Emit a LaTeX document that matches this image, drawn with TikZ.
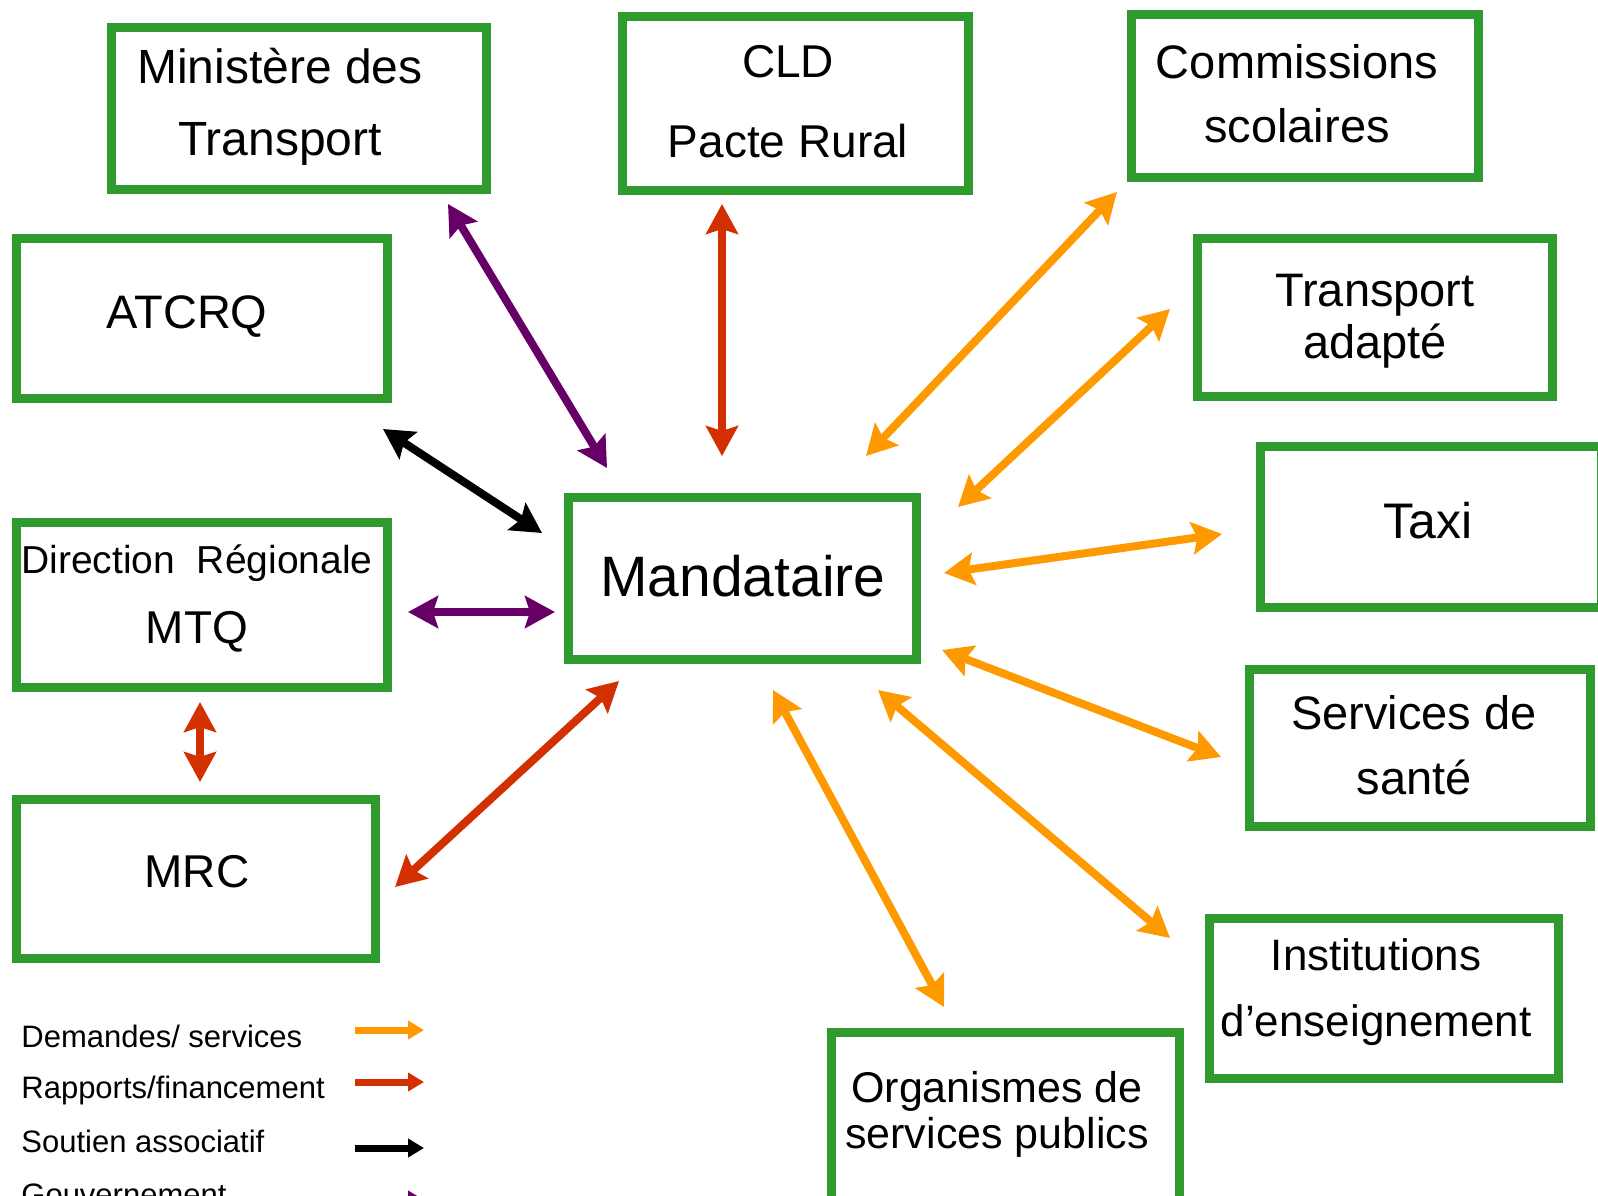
\documentclass[tikz,border=0pt]{standalone}
\usepackage{fontspec}
\setmainfont{Liberation Sans}
\usetikzlibrary{arrows.meta}
\definecolor{boxgreen}{RGB}{47,155,47}
\definecolor{dorange}{RGB}{255,153,0}
\definecolor{dred}{RGB}{210,48,0}
\definecolor{dpurple}{RGB}{102,0,102}
\begin{document}
\begin{tikzpicture}[x=0.5pt,y=-0.5pt,
  box/.style={draw=boxgreen, line width=4.5pt, rectangle, inner sep=0pt},
  lbl/.style={align=center, inner sep=0pt, text=black},
  conn/.style={line width=4pt, {Stealth[length=15pt,width=16pt,inset=2.5pt]}-{Stealth[length=15pt,width=16pt,inset=2.5pt]}},
  leg/.style={line width=3.5pt, -{Triangle[length=8pt,width=9pt]}},
  legtxt/.style={anchor=base west, inner sep=0pt, font=\fontsize{15.5pt}{18pt}\selectfont}]
\useasboundingbox (0,0) rectangle (1598,1195);

% boxes
\node[box, minimum width=187.5pt, minimum height=81pt] (min) at (299,108.5) {};
\node[box, minimum width=173pt, minimum height=87pt] (cld) at (795.5,103.5) {};
\node[box, minimum width=173.5pt, minimum height=81.5pt] (com) at (1305,96) {};
\node[box, minimum width=185.5pt, minimum height=80pt] (atc) at (202,318.5) {};
\node[box, minimum width=177.5pt, minimum height=79pt] (tra) at (1375,317.5) {};
\node[box, minimum width=170.5pt, minimum height=80.5pt] (taxi) at (1431,527) {};
\node[box, minimum width=185.5pt, minimum height=82.5pt] (dir) at (202,605) {};
\node[box, minimum width=174pt, minimum height=81pt] (man) at (742.5,578.5) {};
\node[box, minimum width=170.5pt, minimum height=78.5pt] (san) at (1420,748) {};
\node[box, minimum width=179.5pt, minimum height=79.5pt] (mrc) at (196,879) {};
\node[box, minimum width=174.5pt, minimum height=80pt] (ins) at (1384,998.5) {};
\node[box, minimum width=174pt, minimum height=89pt] (org) at (1005.5,1121.5) {};

% texts
\node[lbl, font=\fontsize{24pt}{36pt}\selectfont] (mint) at (280,107) {Ministère des\\Transport};
\node[lbl, font=\fontsize{23pt}{40pt}\selectfont] (cldt) at (788,102) {CLD\\Pacte Rural};
\node[lbl, font=\fontsize{23.5pt}{32pt}\selectfont] (comt) at (1297,94) {Commissions\\scolaires};
\node[lbl, font=\fontsize{23.5pt}{28pt}\selectfont] (atct) at (187,317) {ATCRQ};
\node[lbl, font=\fontsize{23.5pt}{26pt}\selectfont] (trat) at (1375,321) {Transport\\adapté};
\node[lbl, font=\fontsize{25pt}{30pt}\selectfont] (taxit) at (1428,521) {Taxi};
\node[lbl, font=\fontsize{19.5pt}{35pt}\selectfont] (dirt) at (197,598) {Direction~~Régionale\\{\fontsize{23pt}{35pt}\selectfont MTQ}};
\node[lbl, font=\fontsize{28.5pt}{34pt}\selectfont] (mant) at (743,576) {Mandataire};
\node[lbl, font=\fontsize{23.5pt}{32.5pt}\selectfont] (sant) at (1414,745.5) {Services de\\santé};
\node[lbl, font=\fontsize{23pt}{28pt}\selectfont] (mrct) at (197,872) {MRC};
\node[lbl, font=\fontsize{22pt}{33pt}\selectfont] (inst) at (1376,992) {Institutions\\d’enseignement};
\node[lbl, font=\fontsize{21.5pt}{23pt}\selectfont] (orgt) at (997,1114) {Organismes de\\services publics};

% connector end points
\coordinate (minA) at (448,204);  \coordinate (minB) at (607,468);
\coordinate (cldA) at (722,204);  \coordinate (cldB) at (722,456);
\coordinate (comA) at (866,456);  \coordinate (comB) at (1117,192);
\coordinate (traA) at (958,507);  \coordinate (traB) at (1170,309);
\coordinate (atcA) at (383,429);  \coordinate (atcB) at (542,533);
\coordinate (dirA) at (408,612);  \coordinate (dirB) at (555,612);
\coordinate (taxA) at (944,573);  \coordinate (taxB) at (1222,534);
\coordinate (sanA) at (942,650);  \coordinate (sanB) at (1221,757);
\coordinate (dmA) at (200,702);   \coordinate (dmB) at (200,782);
\coordinate (mrcA) at (395,887);  \coordinate (mrcB) at (619,681);
\coordinate (insA) at (878,690);  \coordinate (insB) at (1170,938);
\coordinate (orgA) at (773,690);  \coordinate (orgB) at (944,1007);

\draw[conn, dpurple] (minA) -- (minB);
\draw[conn, dred] (cldA) -- (cldB);
\draw[conn, dorange] (comA) -- (comB);
\draw[conn, dorange] (traA) -- (traB);
\draw[conn, black] (atcA) -- (atcB);
\draw[conn, dpurple] (dirA) -- (dirB);
\draw[conn, dorange] (taxA) -- (taxB);
\draw[conn, dorange] (sanA) -- (sanB);
\draw[conn, dred] (dmA) -- (dmB);
\draw[conn, dred] (mrcA) -- (mrcB);
\draw[conn, dorange] (insA) -- (insB);
\draw[conn, dorange] (orgA) -- (orgB);

% legend
\node[legtxt] (lg1) at (21,1047) {Demandes/ services};
\node[legtxt] (lg2) at (21,1098) {Rapports/financement};
\node[legtxt] (lg3) at (21,1152) {Soutien associatif};
\node[legtxt] (lg4) at (21,1205) {Gouvernement};
\coordinate (l1a) at (355,1030); \coordinate (l1b) at (424,1030);
\coordinate (l2a) at (355,1082); \coordinate (l2b) at (424,1082);
\coordinate (l3a) at (355,1148); \coordinate (l3b) at (424,1148);
\coordinate (l4a) at (355,1200); \coordinate (l4b) at (424,1200);
\draw[leg, dorange] (l1a) -- (l1b);
\draw[leg, dred] (l2a) -- (l2b);
\draw[leg, black] (l3a) -- (l3b);
\draw[leg, dpurple] (l4a) -- (l4b);
\end{tikzpicture}
\end{document}
